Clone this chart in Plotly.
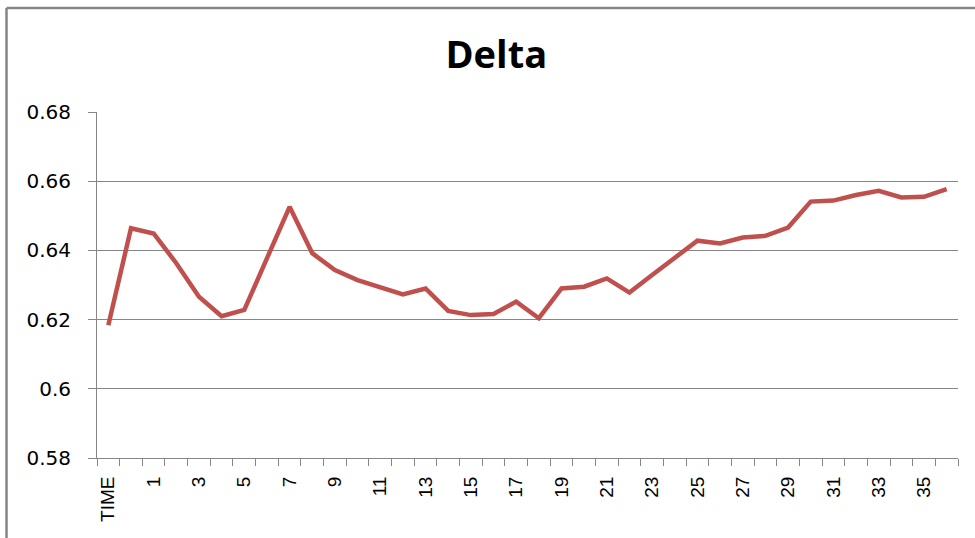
import plotly.graph_objects as go

categories = ["TIME", "0", "1", "2", "3", "4", "5", "6", "7", "8", "9", "10", "11", "12",
              "13", "14", "15", "16", "17", "18", "19", "20", "21", "22", "23", "24", "25",
              "26", "27", "28", "29", "30", "31", "32", "33", "34", "35", "36"]
delta = [0.6184, 0.6464, 0.6449, 0.6363, 0.6266, 0.6210, 0.6228, 0.6377, 0.6526, 0.6392,
         0.6343, 0.6314, 0.6292, 0.6273, 0.6290, 0.6225, 0.6213, 0.6216, 0.6252, 0.6204,
         0.6290, 0.6295, 0.6319, 0.6278, 0.6329, 0.6380, 0.6428, 0.6420, 0.6437, 0.6442,
         0.6466, 0.6541, 0.6544, 0.6560, 0.6572, 0.6553, 0.6555, 0.6577]
x_tick_labels = [c if i % 2 == 0 else "" for i, c in enumerate(categories)]
y_ticks = [0.58, 0.60, 0.62, 0.64, 0.66, 0.68]
y_tick_labels = ["0.58", "0.6", "0.62", "0.64", "0.66", "0.68"]

GRAY = "#868686"

fig = go.Figure()
fig.add_trace(go.Scatter(
    x=categories, y=delta, mode="lines",
    line=dict(color="#C0504D", width=4.5),
    showlegend=False,
))

fig.update_layout(
    width=975, height=538,
    margin=dict(l=97, r=17, t=112, b=80),
    paper_bgcolor="white", plot_bgcolor="white",
    title=dict(text="<b>Delta</b>", font=dict(family="Open Sans", size=38, color="black"),
               x=0.509, xref="container", y=1 - 55 / 538, yref="container",
               xanchor="center", yanchor="middle"),
    xaxis=dict(
        type="category", range=[-0.5, len(categories) - 0.5],
        tickmode="array", tickvals=categories, ticktext=x_tick_labels,
        tickson="boundaries", ticks="outside", ticklen=7, tickcolor=GRAY, tickwidth=1,
        tickangle=-90, tickfont=dict(family="Liberation Sans", size=19, color="black"),
        showgrid=False, showline=True, linecolor=GRAY, linewidth=1,
        ticklabelstandoff=10,
    ),
    yaxis=dict(
        range=[0.58, 0.68], tickmode="array", tickvals=y_ticks, ticktext=y_tick_labels,
        ticks="outside", ticklen=8, tickcolor=GRAY, tickwidth=1,
        tickfont=dict(family="DejaVu Sans", size=20, color="black"),
        showgrid=True, gridcolor=GRAY, gridwidth=1,
        showline=True, linecolor=GRAY, linewidth=1, zeroline=False,
        ticklabelstandoff=13,
    ),
    shapes=[
        dict(type="line", xref="paper", yref="paper",
             x0=(6.5 - 97) / 861, x1=1.2, y0=(458 - 8) / 346, y1=(458 - 8) / 346,
             line=dict(color=GRAY, width=2.5)),
        dict(type="line", xref="paper", yref="paper",
             x0=(6.5 - 97) / 861, x1=(6.5 - 97) / 861, y0=(458 - 8) / 346, y1=-0.4,
             line=dict(color=GRAY, width=2.5)),
    ],
)

fig.write_html("out.html")
